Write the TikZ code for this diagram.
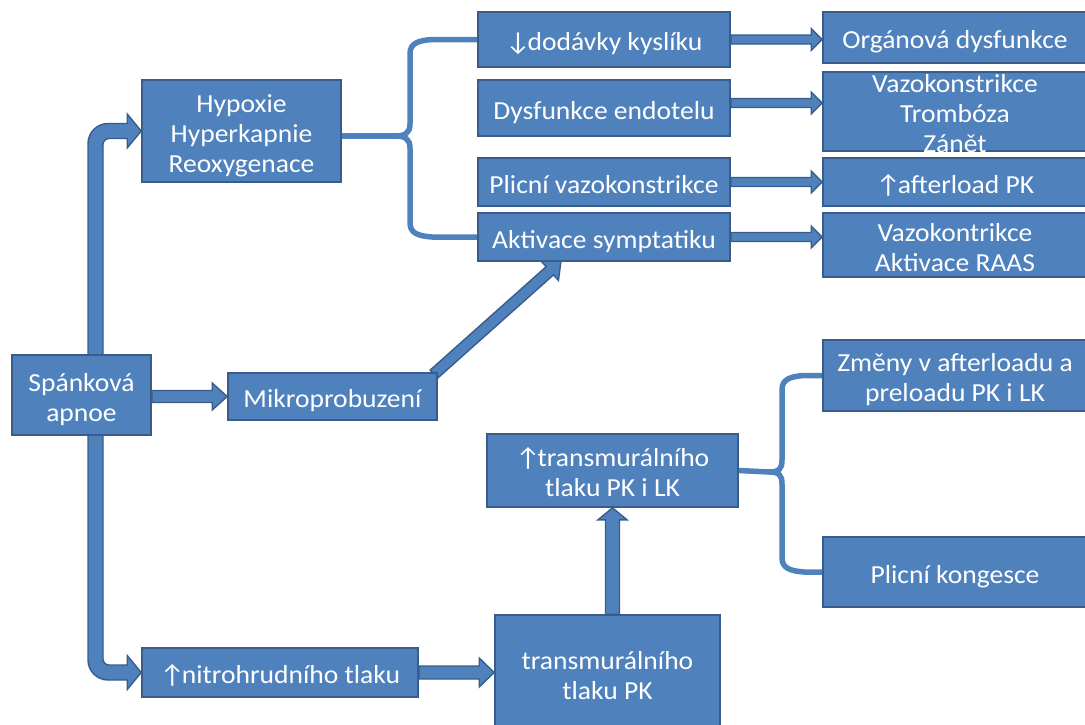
\documentclass[tikz,border=0pt]{standalone}
\usepackage{fontspec}
\setmainfont{Carlito}[FakeStretch=1.06]
\usetikzlibrary{calc,backgrounds}
\definecolor{modra}{HTML}{4F81BD}
\definecolor{okraj}{HTML}{385D8A}
\newcommand{\nahoru}{↑\kern-3pt}
\newcommand{\dolu}{↓\kern-3pt}
\newcommand{\vzpera}{\rule[-5pt]{0pt}{32pt}}
\newcommand{\sipka}[5]{%
	\coordinate (sp-h) at ($(#2)!#5!(#1)$);
	\draw[blokarrow] ($(#1)!#3!90:(#2)$) -- ($(sp-h)!#3!-90:(#1)$) -- ($(sp-h)!#4!-90:(#1)$) -- (#2) -- ($(sp-h)!#4!90:(#1)$) -- ($(sp-h)!#3!90:(#1)$) -- ($(#1)!#3!-90:(#2)$) -- cycle;}
\begin{document}
\begin{tikzpicture}[x=1pt,y=-1pt,
		blok/.style={draw=okraj,fill=modra,line width=1.6pt,text=white,align=center,inner sep=0pt,font=\fontsize{26}{30}\selectfont,execute at begin node={\vzpera}},
		blokarrow/.style={draw=okraj,fill=modra,line width=1.4pt,line join=miter},
		zavorka/.style={modra,line width=5.5pt,line cap=round}]
	\useasboundingbox (0,0) rectangle (1085,724);

	\node[blok,minimum width=199pt,minimum height=102pt] (hyp) at (241.5,131) {\vzpera Hypoxie\\Hyperkapnie\\Reoxygenace};
	\node[blok,minimum width=139pt,minimum height=80pt] (spa) at (81.5,395) {\vzpera Spánková\\apnoe};
	\node[blok,minimum width=209pt,minimum height=47pt] (mik) at (332.5,396.5) {Mikroprobuzení};
	\node[blok,minimum width=252pt,minimum height=55pt] (dod) at (604,39.5) {\dolu dodávky kyslíku};
	\node[blok,minimum width=252pt,minimum height=56pt] (dys) at (604,108) {Dysfunkce endotelu};
	\node[blok,minimum width=252pt,minimum height=48pt] (pvk) at (604,182) {Plicní vazokonstrikce};
	\node[blok,minimum width=252pt,minimum height=48pt] (akt) at (604,237) {Aktivace symptatiku};
	\node[blok,minimum width=264pt,minimum height=51pt] (org) at (955,37.5) {Orgánová dysfunkce};
	\node[blok,minimum width=264pt,minimum height=79pt] (vtz) at (955,111.5) {};
	\node[blok,draw=none,fill=none] at (vtz) {\vzpera Vazokonstrikce\\Trombóza\\Zánět};
	\node[blok,minimum width=264pt,minimum height=48pt] (aft) at (955,182) {\nahoru afterload PK};
	\node[blok,minimum width=264pt,minimum height=64pt] (raas) at (955,245) {\vzpera Vazokontrikce\\Aktivace RAAS};
	\node[blok,minimum width=264pt,minimum height=71pt] (zme) at (955,375.5) {\vzpera Změny v afterloadu a\\preloadu PK i LK};
	\node[blok,minimum width=264pt,minimum height=70pt] (kon) at (955,572) {Plicní kongesce};
	\node[blok,minimum width=251pt,minimum height=73pt] (tlk) at (612.5,470.5) {\vzpera\nahoru transmurálního\\tlaku PK i LK};
	\node[blok,minimum width=276pt,minimum height=49pt] (nit) at (280,672.5) {\nahoru nitrohrudního tlaku};
	\node[blok,minimum width=225pt,minimum height=116pt] (tpk) at (607.5,673) {\vzpera transmurálního\\tlaku PK};

	\coordinate (o1) at (95.5,131);
	\coordinate (o2) at (95.5,672.5);
	\coordinate (zh1) at (410,136);
	\coordinate (zh2) at (782,472);
	\coordinate (d1) at ($(dys.east)+(0,-5)$);
	\coordinate (m1) at ($(mik.north east)+(-4,2)$);
	\coordinate (a1) at ($(akt.south)+(-43,-1)$);

	\begin{scope}[on background layer]
	\draw[zavorka] ([yshift=-5pt]hyp.east) -- ($(zh1)+(-15,0)$);
	\draw[zavorka] (dod.west) -- ($(zh1|-dod.west)+(22,0)$) .. controls +(-14,1) and +(0,-10) .. ($(zh1|-dod.west)+(0,14)$) -- ($(zh1)+(0,-12)$) .. controls +(0,9) and +(10,0) .. ($(zh1)+(-15,0)$) .. controls +(10,0) and +(0,-9) .. ($(zh1)+(0,12)$) -- ($(zh1|-akt.west)+(0,-14)$) .. controls +(0,10) and +(-14,-1) .. ($(zh1|-akt.west)+(22,0)$) -- (akt.west);
	\draw[zavorka] (tlk.east) -- ($(zh2)+(-13,0)$);
	\draw[zavorka] (zme.west) -- ($(zh2|-zme.west)+(22,0)$) .. controls +(-14,1) and +(0,-10) .. ($(zh2|-zme.west)+(0,14)$) -- ($(zh2)+(0,-12)$) .. controls +(0,9) and +(10,0) .. ($(zh2)+(-13,0)$) .. controls +(10,0) and +(0,-9) .. ($(zh2)+(0,12)$) -- ($(zh2|-kon.west)+(0,-14)$) .. controls +(0,10) and +(-14,-1) .. ($(zh2|-kon.west)+(22,0)$) -- (kon.west);

	\draw[blokarrow] ($(o1|-spa.north)+(-7.5,5)$) [rounded corners=20pt] -- ($(o1)+(-7.5,-7.5)$) [sharp corners] -- ($(hyp.west)+(-14,-7.5)$) -- ($(hyp.west)+(-14,-17)$) -- (hyp.west) -- ($(hyp.west)+(-14,17)$) -- ($(hyp.west)+(-14,7.5)$) [rounded corners=6pt] -- ($(o1)+(7.5,7.5)$) [sharp corners] -- ($(o1|-spa.north)+(7.5,5)$) -- cycle;
	\draw[blokarrow] ($(o2|-spa.south)+(-7.5,-5)$) [rounded corners=20pt] -- ($(o2)+(-7.5,7.5)$) [sharp corners] -- ($(nit.west)+(-14,7.5)$) -- ($(nit.west)+(-14,17)$) -- (nit.west) -- ($(nit.west)+(-14,-17)$) -- ($(nit.west)+(-14,-7.5)$) [rounded corners=6pt] -- ($(o2)+(7.5,-7.5)$) [sharp corners] -- ($(o2|-spa.south)+(7.5,-5)$) -- cycle;
	\sipka{spa.east |- mik.west}{mik.west}{6pt}{13.5pt}{15pt}
	\sipka{m1}{a1}{5.5pt}{13pt}{15pt}
	\sipka{dod.east}{org.west |- dod.east}{4.5pt}{11pt}{11pt}
	\sipka{d1}{vtz.west |- d1}{4.5pt}{11pt}{11pt}
	\sipka{pvk.east}{aft.west}{4.5pt}{11pt}{11pt}
	\sipka{akt.east}{raas.west |- akt.east}{4.5pt}{11pt}{11pt}
	\sipka{nit.east}{tpk.west |- nit.east}{6.5pt}{14.5pt}{15pt}
	\sipka{tlk.south |- tpk.north}{tlk.south}{7pt}{14.5pt}{12pt}
	\end{scope}
\end{tikzpicture}
\end{document}
